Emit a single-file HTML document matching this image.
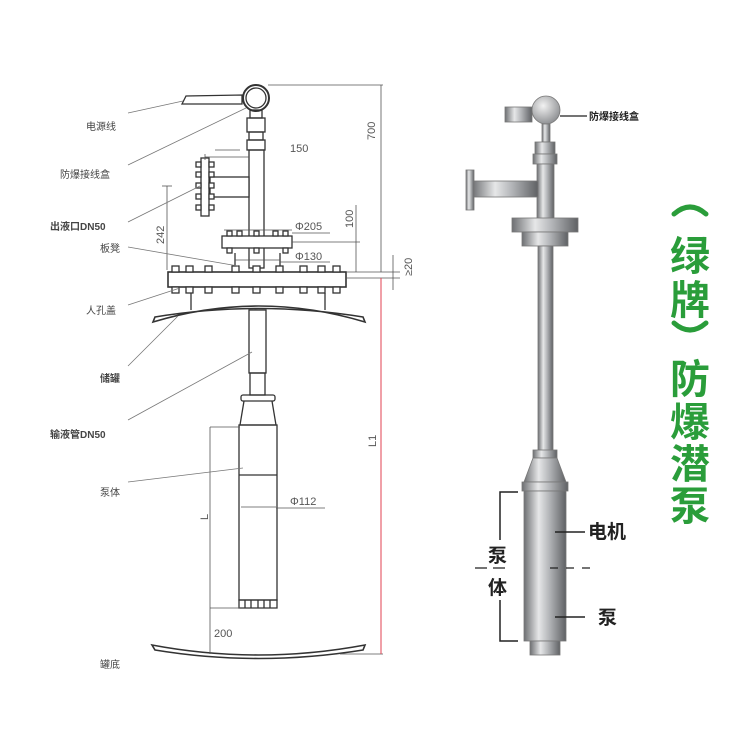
<!DOCTYPE html>
<html><head><meta charset="utf-8"><style>
body{margin:0;background:#fff}
svg text{font-family:"Liberation Sans","Noto Sans CJK SC",sans-serif}
</style></head><body>
<svg width="750" height="750" viewBox="0 0 750 750" xmlns="http://www.w3.org/2000/svg">
<defs>
<linearGradient id="m" x1="0" x2="1" y1="0" y2="0">
<stop offset="0" stop-color="#6d6f72"/><stop offset=".35" stop-color="#e6e7e8"/><stop offset=".6" stop-color="#b4b6b9"/><stop offset="1" stop-color="#5f6164"/>
</linearGradient>
<radialGradient id="s" cx=".4" cy=".35" r=".7"><stop offset="0" stop-color="#f2f2f2"/><stop offset="1" stop-color="#8a8c8f"/></radialGradient>
</defs>
<g fill="none" stroke="#333" stroke-width="1.3">
<path d="M182,104 L186,96 L242,95 L242,104 Z" fill="#fff"/>
<circle cx="256" cy="98" r="13" fill="#fff" stroke-width="2"/>
<circle cx="256" cy="98" r="10"/>
<rect x="250" y="110" width="12" height="8"/>
<rect x="247" y="118" width="18" height="14"/>
<rect x="249" y="132" width="14" height="8"/>
<rect x="247" y="140" width="18" height="10"/>
<rect x="249" y="150" width="15" height="118"/>
<rect x="210" y="177" width="39" height="20" fill="#fff"/>
<rect x="201" y="158" width="8" height="58" fill="#fff"/>
<g fill="#fff">
<rect x="196" y="162" width="5" height="5"/><rect x="196" y="172" width="5" height="5"/><rect x="196" y="183" width="5" height="5"/><rect x="196" y="194" width="5" height="5"/><rect x="196" y="205" width="5" height="5"/>
<rect x="209" y="162" width="5" height="5"/><rect x="209" y="172" width="5" height="5"/><rect x="209" y="183" width="5" height="5"/><rect x="209" y="194" width="5" height="5"/><rect x="209" y="205" width="5" height="5"/>
</g>
<rect x="222" y="236" width="70" height="12" fill="#fff"/>
<g fill="#fff">
<rect x="227" y="231" width="5" height="5"/><rect x="237" y="231" width="5" height="5"/><rect x="254" y="231" width="5" height="5"/><rect x="273" y="231" width="5" height="5"/><rect x="283" y="231" width="5" height="5"/>
<rect x="227" y="248" width="5" height="5"/><rect x="254" y="248" width="5" height="5"/><rect x="283" y="248" width="5" height="5"/>
</g>
<line x1="235" y1="253" x2="235" y2="268"/><line x1="280" y1="253" x2="280" y2="268"/>
<rect x="168" y="272" width="178" height="15" fill="#fff" stroke-width="1.6"/>
<g fill="#fff">
<rect x="172" y="266" width="7" height="6"/><rect x="186" y="266" width="7" height="6"/><rect x="205" y="266" width="7" height="6"/><rect x="232" y="266" width="7" height="6"/><rect x="253" y="266" width="7" height="6"/><rect x="276" y="266" width="7" height="6"/><rect x="300" y="266" width="7" height="6"/><rect x="318" y="266" width="7" height="6"/><rect x="333" y="266" width="7" height="6"/>
<rect x="172" y="287" width="7" height="6"/><rect x="186" y="287" width="7" height="6"/><rect x="205" y="287" width="7" height="6"/><rect x="232" y="287" width="7" height="6"/><rect x="253" y="287" width="7" height="6"/><rect x="276" y="287" width="7" height="6"/><rect x="300" y="287" width="7" height="6"/><rect x="318" y="287" width="7" height="6"/><rect x="333" y="287" width="7" height="6"/>
</g>
<line x1="191" y1="293" x2="191" y2="310"/><line x1="325" y1="293" x2="325" y2="310"/>
<path d="M153,322 Q258,290 365,322 L363,317 Q258,300 155,317 Z" fill="#fff" stroke-width="1.6"/>
<rect x="249" y="310" width="17" height="63"/>
<rect x="250" y="373" width="15" height="22"/>
<rect x="241" y="395" width="34" height="6" rx="2"/>
<path d="M244,401 L240,425 L276,425 L272,401"/>
<rect x="239" y="425" width="38" height="175"/>
<line x1="239" y1="475" x2="277" y2="475"/>
<path d="M239,600 h38 v8 h-38 z M245,600 v8 M251,600 v8 M258,600 v8 M264,600 v8 M270,600 v8"/>
<path d="M152,645 Q258,665 365,645 L363,650 Q258,667 155,650 Z" fill="#fff" stroke-width="1.6"/>
</g>
<g stroke="#555" stroke-width="0.8" fill="none">
<line x1="268" y1="85" x2="383" y2="85"/><line x1="381" y1="85" x2="381" y2="272"/>
<line x1="346" y1="272" x2="400" y2="272"/><line x1="346" y1="278" x2="400" y2="278"/>
<line x1="393" y1="255" x2="393" y2="290"/>
<line x1="292" y1="242" x2="360" y2="242"/><line x1="356" y1="205" x2="356" y2="272"/>
<line x1="167" y1="186" x2="167" y2="270"/><line x1="162" y1="186" x2="172" y2="186"/>
<line x1="205" y1="154" x2="205" y2="160"/><line x1="205" y1="157" x2="249" y2="157"/><line x1="215" y1="150" x2="240" y2="150"/>
<line x1="224" y1="230" x2="292" y2="230"/><line x1="292" y1="233" x2="330" y2="233"/>
<line x1="235" y1="260" x2="280" y2="260"/><line x1="280" y1="262" x2="330" y2="262"/>
<line x1="241" y1="507" x2="276" y2="507"/><line x1="276" y1="508" x2="325" y2="508"/>
<line x1="210" y1="427" x2="240" y2="427"/><line x1="210" y1="608" x2="240" y2="608"/>
<line x1="210" y1="427" x2="210" y2="654"/>
<line x1="340" y1="654" x2="383" y2="654"/>
</g>
<line x1="381" y1="278" x2="381" y2="654" stroke="#e04050" stroke-width="1"/>
<g fill="#555" font-size="11">
<text x="290" y="152">150</text>
<text x="295" y="230">Φ205</text>
<text x="295" y="260">Φ130</text>
<text x="290" y="505">Φ112</text>
<text x="214" y="637">200</text>
<text transform="translate(375,140) rotate(-90)">700</text>
<text transform="translate(353,228) rotate(-90)">100</text>
<text transform="translate(164,244) rotate(-90)">242</text>
<text transform="translate(412,276) rotate(-90)">≥20</text>
<text transform="translate(376,447) rotate(-90)">L1</text>
<text transform="translate(208,520) rotate(-90)">L</text>
</g>
<g stroke="#777" stroke-width="0.8">
<line x1="128" y1="113" x2="183" y2="101"/>
<line x1="128" y1="165" x2="246" y2="108"/>
<line x1="128" y1="222" x2="200" y2="186"/>
<line x1="128" y1="247" x2="238" y2="266"/>
<line x1="128" y1="305" x2="180" y2="288"/>
<line x1="128" y1="366" x2="178" y2="316"/>
<line x1="128" y1="420" x2="252" y2="352"/>
<line x1="128" y1="482" x2="243" y2="468"/>
</g>
<g fill="#444" font-size="10">
<text x="86" y="130">电源线</text>
<text x="60" y="178">防爆接线盒</text>
<text x="50" y="230" font-weight="bold">出液口DN50</text>
<text x="100" y="252">板凳</text>
<text x="86" y="314">人孔盖</text>
<text x="100" y="382" font-weight="bold">储罐</text>
<text x="50" y="438" font-weight="bold">输液管DN50</text>
<text x="100" y="496">泵体</text>
<text x="100" y="668">罐底</text>
</g>
<g stroke="#777" stroke-width="0.8">
<rect x="505" y="107" width="27" height="15" fill="url(#m)"/>
<circle cx="546" cy="110" r="14" fill="url(#s)"/>
<rect x="542" y="124" width="8" height="18" fill="url(#m)"/>
<rect x="535" y="142" width="20" height="12" fill="url(#m)"/>
<rect x="533" y="154" width="24" height="10" fill="url(#m)"/>
<rect x="537" y="164" width="17" height="56" fill="url(#m)"/>
<rect x="472" y="181" width="66" height="16" fill="url(#m)"/>
<rect x="466" y="170" width="8" height="40" fill="url(#m)"/>
<rect x="512" y="218" width="66" height="14" fill="url(#m)"/>
<rect x="522" y="232" width="46" height="14" fill="url(#m)"/>
<rect x="538" y="246" width="15" height="205" fill="url(#m)"/>
<rect x="533" y="450" width="24" height="8" fill="url(#m)"/>
<path d="M533,458 L524,482 L566,482 L557,458 Z" fill="url(#m)"/>
<rect x="522" y="482" width="46" height="9" fill="url(#m)"/>
<rect x="524" y="491" width="42" height="150" fill="url(#m)"/>
<rect x="530" y="641" width="30" height="14" fill="url(#m)"/>
</g>
<line x1="560" y1="116" x2="587" y2="116" stroke="#222" stroke-width="1.2"/>
<text x="589" y="120" font-size="10" font-weight="bold" fill="#222">防爆接线盒</text>
<g stroke="#222" stroke-width="1.5" fill="none">
<path d="M518,492 H500 V540 M500,600 V641 H518"/>
<line x1="555" y1="532" x2="585" y2="532"/>
<line x1="555" y1="617" x2="585" y2="617"/>
<path d="M475,568 h12 M493,568 h12 M550,568 h8 M566,568 h8 M582,568 h8" stroke-width="1.2"/>
</g>
<g font-size="19" font-weight="bold" fill="#222">
<text x="588" y="538">电机</text>
<text x="598" y="624">泵</text>
<text x="488" y="562">泵</text>
<text x="488" y="594">体</text>
</g>
<g stroke="#2a9d3a" stroke-width="5" fill="none" stroke-linecap="round">
<path d="M674,214 Q690,200 706,214"/>
<path d="M674,323 Q690,337 706,323"/>
</g>
<g font-size="40" font-weight="bold" fill="#2a9d3a" text-anchor="middle">
<text x="690" y="270">绿</text>
<text x="690" y="314">牌</text>
<text x="690" y="393">防</text>
<text x="690" y="436">爆</text>
<text x="690" y="478">潜</text>
<text x="690" y="520">泵</text>
</g>
</svg>
</body></html>
